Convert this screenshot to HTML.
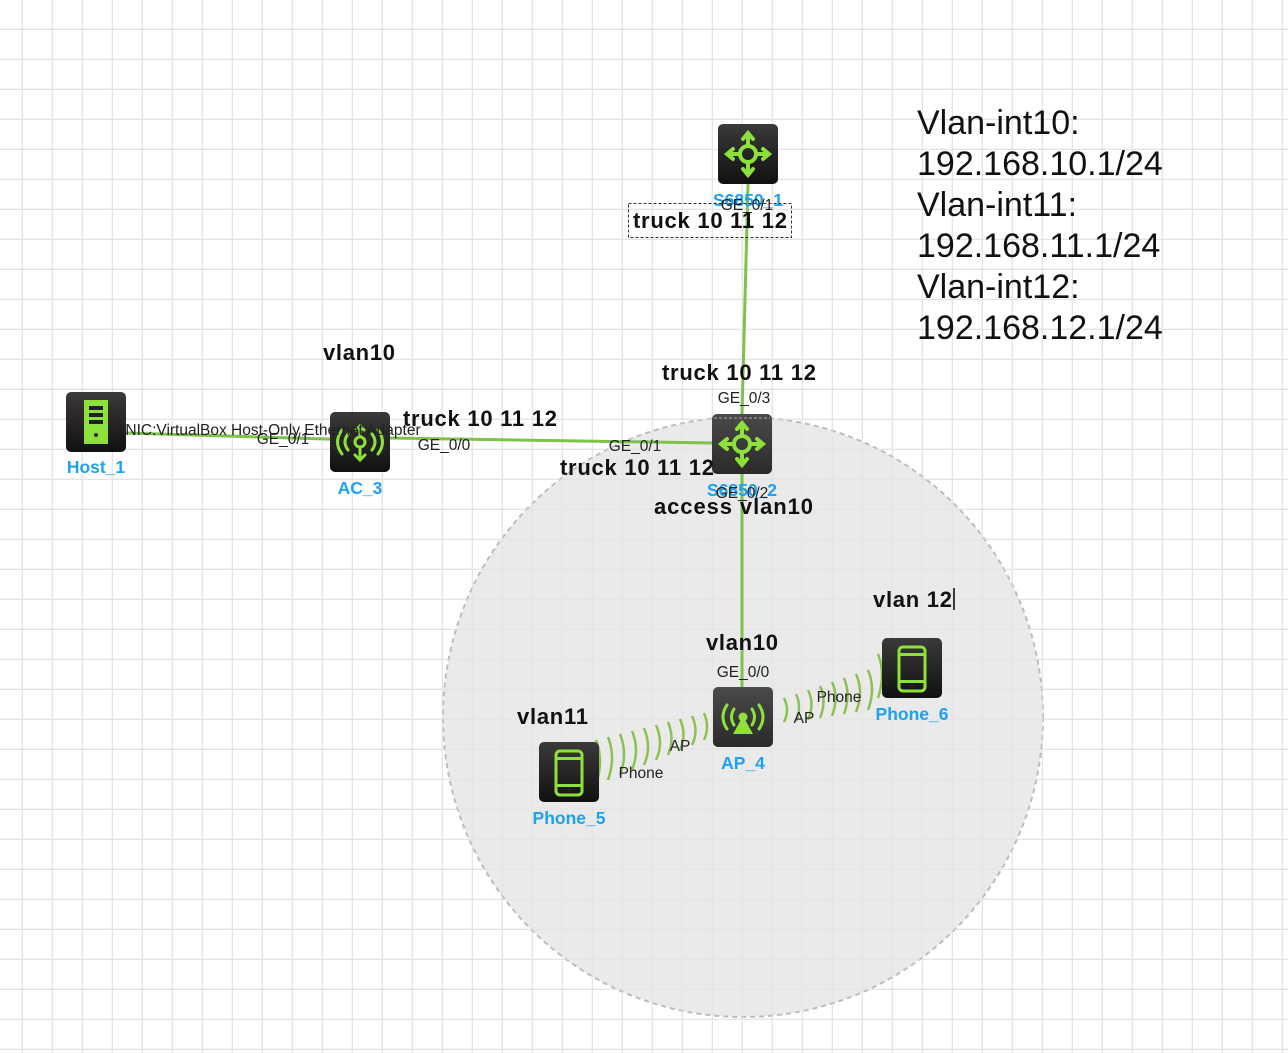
<!DOCTYPE html>
<html><head><meta charset="utf-8"><style>
body{margin:0;width:1288px;height:1053px;overflow:hidden;background:#fff;font-family:"Liberation Sans",Arial,sans-serif;}
svg{position:absolute;left:0;top:0}
</style></head><body>
<svg width="1288" height="1053" xmlns="http://www.w3.org/2000/svg" font-family="Liberation Sans, Arial, sans-serif">
<defs>
<pattern id="g" x="-7" y="0" width="30" height="30" patternUnits="userSpaceOnUse">
<path d="M30 0V30M0 30H30" stroke="#e4e4e4" stroke-width="2.5" fill="none"/>
</pattern>
<linearGradient id="dk" x1="0" y1="0" x2="0" y2="1"><stop offset="0" stop-color="#3a3a3a"/><stop offset="1" stop-color="#111"/></linearGradient>
<linearGradient id="dk2" x1="0" y1="0" x2="0" y2="1"><stop offset="0" stop-color="#4a4a4a"/><stop offset="1" stop-color="#2a2a2a"/></linearGradient>
</defs>
<rect width="1288" height="1053" fill="url(#g)"/>
<circle cx="743" cy="717" r="300" fill="#e6e6e6" fill-opacity="0.85" stroke="#bdbdbd" stroke-width="2" stroke-dasharray="5,4"/>
<rect width="1288" height="1053" fill="url(#g)" opacity="0.5"/>
<g stroke="#7dc24a" stroke-width="3" fill="none">
<line x1="126" y1="433" x2="360" y2="440"/>
<line x1="390" y1="438" x2="712" y2="443"/>
<line x1="748" y1="184" x2="742" y2="414"/>
<line x1="742" y1="474" x2="742" y2="687"/>
</g>
<g stroke="#8cc152" stroke-width="2.5" fill="none">
<path d="M596 740 q8 20 0 45M608 737 q8 20 0 43M620 734 q8 20 0 41M632 731 q8 19 0 39M644 728 q8 19 0 37M656 725 q8 18 0 35M668 722 q7 17 0 33M680 719 q7 16 0 31M692 716 q7 15 0 29M704 713 q6 14 0 27"/>
<path d="M784 698 q6 12 0 24M796 694 q6 13 0 27M808 690 q7 14 0 30M820 686 q7 15 0 32M832 682 q7 16 0 34M844 678 q7 17 0 36M856 674 q8 18 0 38M868 670 q8 19 0 40M878 654 q8 20 0 44"/>
</g>
<g>
<rect x="718" y="124" width="60" height="60" rx="5" fill="url(#dk)"/>
<rect x="712" y="414" width="60" height="60" rx="5" fill="url(#dk2)"/>
<line x1="714" y1="418" x2="770" y2="418" stroke="#aaa" stroke-dasharray="3,2"/>
<rect x="66" y="392" width="60" height="60" rx="5" fill="url(#dk)"/>
<rect x="330" y="412" width="60" height="60" rx="5" fill="url(#dk)"/>
<rect x="713" y="687" width="60" height="60" rx="5" fill="url(#dk2)"/>
<rect x="539" y="742" width="60" height="60" rx="5" fill="url(#dk)"/>
<rect x="882" y="638" width="60" height="60" rx="5" fill="url(#dk)"/>
</g>
<g stroke="#8ee03a" stroke-width="4" fill="none" stroke-linecap="round">
<g transform="translate(748,154)"><circle r="8"/><path d="M0-8V-20M0 8V20M-8 0H-20M8 0H20"/><path d="M-5-15L0-21L5-15M-5 15L0 21L5 15M-15-5L-21 0L-15 5M15-5L21 0L15 5"/></g>
<g transform="translate(742,444)"><circle r="8"/><path d="M0-8V-20M0 8V20M-8 0H-20M8 0H20"/><path d="M-5-15L0-21L5-15M-5 15L0 21L5 15M-15-5L-21 0L-15 5M15-5L21 0L15 5"/></g>
<g transform="translate(360,442)" stroke-width="3"><circle r="5"/><path d="M0 5V18M-5 13L0 18L5 13M0-5V-16M-4-12L0-16L4-12"/><path d="M-12-8q-6 8 0 16M12-8q6 8 0 16M-18-12q-9 12 0 24M18-12q9 12 0 24"/></g>
<g transform="translate(743,717)" stroke-width="3"><circle r="3" fill="#8ee03a"/><path d="M-9-8q-5 8 0 16M9-8q5 8 0 16M-16-12q-8 12 0 24M16-12q8 12 0 24"/></g>
</g>
<path d="M743 716 L733 734 L753 734Z" fill="#8ee03a"/>
<rect x="84" y="400" width="24" height="44" fill="#8ee03a"/>
<g fill="#222"><rect x="89" y="406" width="14" height="4"/><rect x="89" y="413" width="14" height="4"/><rect x="89" y="420" width="14" height="4"/><circle cx="96" cy="435" r="2"/></g>
<g fill="none" stroke="#8ee03a" stroke-width="3">
<rect x="556" y="751" width="26" height="44" rx="4"/><rect x="899" y="647" width="26" height="44" rx="4"/>
</g>
<g fill="#8ee03a"><rect x="556" y="757" width="26" height="3"/><rect x="556" y="784" width="26" height="3"/><circle cx="569" cy="790" r="2" fill="#222"/>
<rect x="899" y="653" width="26" height="3"/><rect x="899" y="680" width="26" height="3"/><circle cx="912" cy="686" r="2" fill="#222"/></g>
<g fill="#1da1f2" font-weight="bold" font-size="17.5" text-anchor="middle">
<text x="748" y="206">S6850_1</text>
<text x="742" y="496">S6850_2</text>
<text x="96" y="473">Host_1</text>
<text x="360" y="494">AC_3</text>
<text x="743" y="769">AP_4</text>
<text x="569" y="824">Phone_5</text>
<text x="912" y="720">Phone_6</text>
</g>
<g fill="#222" font-size="15.5" text-anchor="middle">
<text x="747" y="210">GE_0/1</text>
<text x="744" y="403">GE_0/3</text>
<text x="742" y="498">GE_0/2</text>
<text x="635" y="451">GE_0/1</text>
<text x="444" y="450">GE_0/0</text>
<text x="283" y="444">GE_0/1</text>
<text x="273" y="435">NIC:VirtualBox Host-Only Ethernet Adapter</text>
<text x="743" y="677">GE_0/0</text>
<text x="680" y="751">AP</text>
<text x="641" y="778">Phone</text>
<text x="804" y="723">AP</text>
<text x="839" y="702">Phone</text>
</g>
<rect x="628.5" y="203.5" width="163" height="34" fill="none" stroke="#333" stroke-dasharray="3,2"/>
<g fill="#111" font-weight="bold" font-size="22">
<text x="633" y="228" textLength="154">truck 10 11 12</text>
<text x="662" y="380" textLength="154">truck 10 11 12</text>
<text x="403" y="426" textLength="154">truck 10 11 12</text>
<text x="560" y="475" textLength="154">truck 10 11 12</text>
<text x="654" y="514" textLength="159">access vlan10</text>
<text x="323" y="360" textLength="72">vlan10</text>
<text x="706" y="650" textLength="72">vlan10</text>
<text x="517" y="724" textLength="71">vlan11</text>
<text x="873" y="607" textLength="79">vlan 12</text>
</g>
<line x1="954" y1="588" x2="954" y2="610" stroke="#000" stroke-width="1.5"/>
<g fill="#111" font-size="34">
<text x="917" y="134">Vlan-int10:</text>
<text x="917" y="175">192.168.10.1/24</text>
<text x="917" y="216">Vlan-int11:</text>
<text x="917" y="257">192.168.11.1/24</text>
<text x="917" y="298">Vlan-int12:</text>
<text x="917" y="339">192.168.12.1/24</text>
</g>
</svg>
</body></html>
